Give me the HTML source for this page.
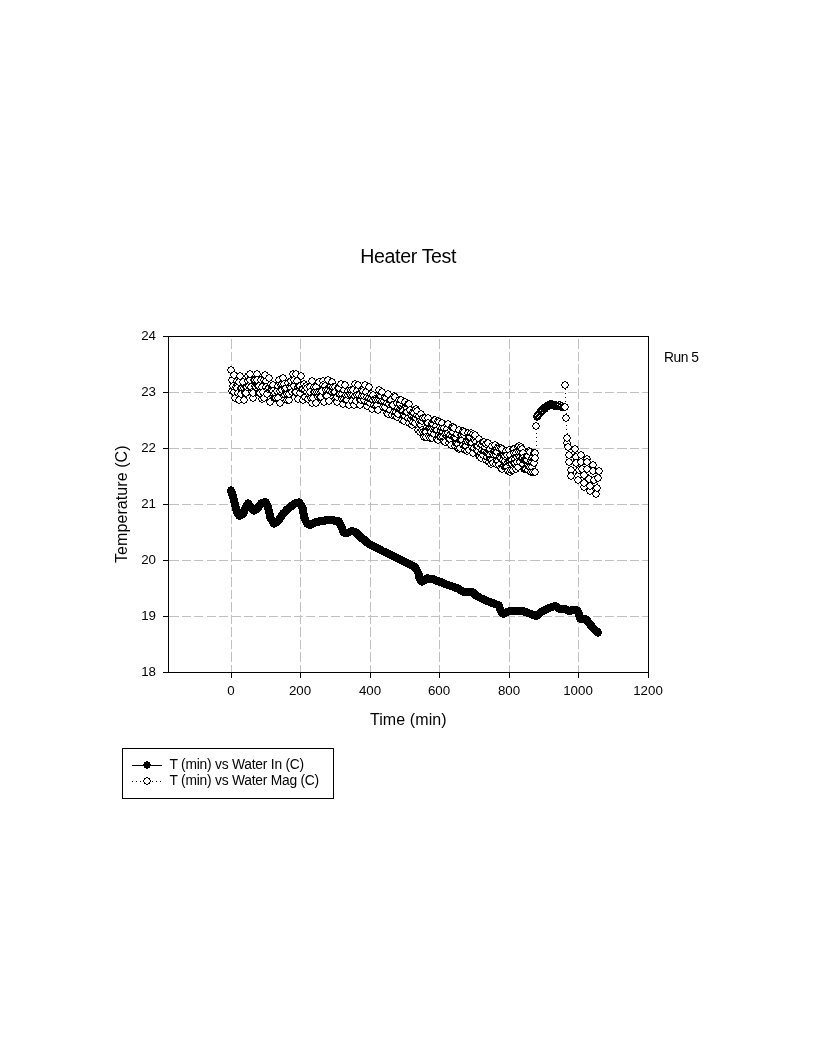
<!DOCTYPE html>
<html><head><meta charset="utf-8"><title>Heater Test</title>
<style>html,body{margin:0;padding:0;background:#fff;}body{width:816px;height:1056px;position:relative;overflow:hidden;font-family:"Liberation Sans",sans-serif;}</style>
</head><body>
<svg width="816" height="1056" viewBox="0 0 816 1056" style="position:absolute;left:0;top:0">
<rect width="816" height="1056" fill="#fff"/>
<defs><g id="mo" shape-rendering="crispEdges"><path d="M3 1h2v1h-2zM2 2h4v1h-4zM1 3h6v2h-6zM2 5h4v1h-4zM3 6h2v1h-2z" fill="#fff"/><path d="M3 0h2v1h-2zM1 1h2v1h-2zM5 1h2v1h-2zM1 2h1v1h-1zM6 2h1v1h-1zM0 3h1v2h-1zM7 3h1v2h-1zM1 5h1v1h-1zM6 5h1v1h-1zM1 6h2v1h-2zM5 6h2v1h-2zM3 7h2v1h-2z" fill="#000"/></g><path id="mf" d="M3 0h2v1h-2zM1 1h6v2h-6zM0 3h8v2h-8zM1 5h6v2h-6zM3 7h2v1h-2z" fill="#000" shape-rendering="crispEdges"/></defs>
<g stroke="#c0c0c0" stroke-width="1" shape-rendering="crispEdges" fill="none">
<line x1="231.5" y1="339.4" x2="231.5" y2="672" stroke-dasharray="9.3 3.22"/>
<line x1="300.5" y1="339.4" x2="300.5" y2="672" stroke-dasharray="9.3 3.22"/>
<line x1="370.5" y1="339.4" x2="370.5" y2="672" stroke-dasharray="9.3 3.22"/>
<line x1="439.5" y1="339.4" x2="439.5" y2="672" stroke-dasharray="9.3 3.22"/>
<line x1="509.5" y1="339.4" x2="509.5" y2="672" stroke-dasharray="9.3 3.22"/>
<line x1="578.5" y1="339.4" x2="578.5" y2="672" stroke-dasharray="9.3 3.22"/>
<line x1="169.2" y1="392.5" x2="648" y2="392.5" stroke-dasharray="9.3 3.15"/>
<line x1="169.2" y1="448.5" x2="648" y2="448.5" stroke-dasharray="9.3 3.15"/>
<line x1="169.2" y1="504.5" x2="648" y2="504.5" stroke-dasharray="9.3 3.15"/>
<line x1="169.2" y1="560.5" x2="648" y2="560.5" stroke-dasharray="9.3 3.15"/>
<line x1="169.2" y1="616.5" x2="648" y2="616.5" stroke-dasharray="9.3 3.15"/>
</g>
<g stroke="#000" stroke-width="1" shape-rendering="crispEdges" fill="none">
<rect x="168.5" y="336.5" width="480" height="336"/>
<line x1="163" y1="336.5" x2="168" y2="336.5"/>
<line x1="163" y1="392.5" x2="168" y2="392.5"/>
<line x1="163" y1="448.5" x2="168" y2="448.5"/>
<line x1="163" y1="504.5" x2="168" y2="504.5"/>
<line x1="163" y1="560.5" x2="168" y2="560.5"/>
<line x1="163" y1="616.5" x2="168" y2="616.5"/>
<line x1="163" y1="672.5" x2="168" y2="672.5"/>
<line x1="231.5" y1="672" x2="231.5" y2="678"/>
<line x1="300.5" y1="672" x2="300.5" y2="678"/>
<line x1="370.5" y1="672" x2="370.5" y2="678"/>
<line x1="439.5" y1="672" x2="439.5" y2="678"/>
<line x1="509.5" y1="672" x2="509.5" y2="678"/>
<line x1="578.5" y1="672" x2="578.5" y2="678"/>
<line x1="648.5" y1="672" x2="648.5" y2="678"/>
</g>
<g shape-rendering="crispEdges">
<use href="#mf" x="227" y="486"/>
<use href="#mf" x="227" y="487"/>
<use href="#mf" x="227" y="488"/>
<use href="#mf" x="228" y="488"/>
<use href="#mf" x="228" y="489"/>
<use href="#mf" x="228" y="490"/>
<use href="#mf" x="228" y="491"/>
<use href="#mf" x="229" y="491"/>
<use href="#mf" x="229" y="492"/>
<use href="#mf" x="229" y="493"/>
<use href="#mf" x="229" y="494"/>
<use href="#mf" x="230" y="495"/>
<use href="#mf" x="230" y="496"/>
<use href="#mf" x="230" y="497"/>
<use href="#mf" x="230" y="498"/>
<use href="#mf" x="231" y="499"/>
<use href="#mf" x="231" y="500"/>
<use href="#mf" x="231" y="501"/>
<use href="#mf" x="231" y="502"/>
<use href="#mf" x="232" y="503"/>
<use href="#mf" x="232" y="504"/>
<use href="#mf" x="232" y="505"/>
<use href="#mf" x="232" y="506"/>
<use href="#mf" x="233" y="507"/>
<use href="#mf" x="233" y="508"/>
<use href="#mf" x="233" y="509"/>
<use href="#mf" x="234" y="509"/>
<use href="#mf" x="234" y="510"/>
<use href="#mf" x="235" y="510"/>
<use href="#mf" x="235" y="511"/>
<use href="#mf" x="235" y="512"/>
<use href="#mf" x="236" y="512"/>
<use href="#mf" x="237" y="511"/>
<use href="#mf" x="238" y="511"/>
<use href="#mf" x="239" y="510"/>
<use href="#mf" x="239" y="509"/>
<use href="#mf" x="240" y="509"/>
<use href="#mf" x="240" y="508"/>
<use href="#mf" x="240" y="507"/>
<use href="#mf" x="240" y="506"/>
<use href="#mf" x="241" y="506"/>
<use href="#mf" x="241" y="505"/>
<use href="#mf" x="241" y="504"/>
<use href="#mf" x="242" y="503"/>
<use href="#mf" x="242" y="502"/>
<use href="#mf" x="243" y="502"/>
<use href="#mf" x="243" y="501"/>
<use href="#mf" x="244" y="500"/>
<use href="#mf" x="244" y="499"/>
<use href="#mf" x="245" y="500"/>
<use href="#mf" x="245" y="501"/>
<use href="#mf" x="246" y="502"/>
<use href="#mf" x="247" y="503"/>
<use href="#mf" x="247" y="504"/>
<use href="#mf" x="248" y="505"/>
<use href="#mf" x="249" y="505"/>
<use href="#mf" x="249" y="506"/>
<use href="#mf" x="250" y="506"/>
<use href="#mf" x="250" y="507"/>
<use href="#mf" x="251" y="506"/>
<use href="#mf" x="252" y="506"/>
<use href="#mf" x="252" y="505"/>
<use href="#mf" x="253" y="505"/>
<use href="#mf" x="253" y="504"/>
<use href="#mf" x="254" y="504"/>
<use href="#mf" x="254" y="503"/>
<use href="#mf" x="255" y="503"/>
<use href="#mf" x="255" y="502"/>
<use href="#mf" x="256" y="501"/>
<use href="#mf" x="257" y="500"/>
<use href="#mf" x="257" y="499"/>
<use href="#mf" x="258" y="499"/>
<use href="#mf" x="259" y="499"/>
<use href="#mf" x="260" y="498"/>
<use href="#mf" x="261" y="498"/>
<use href="#mf" x="262" y="498"/>
<use href="#mf" x="262" y="499"/>
<use href="#mf" x="262" y="500"/>
<use href="#mf" x="263" y="500"/>
<use href="#mf" x="263" y="501"/>
<use href="#mf" x="263" y="502"/>
<use href="#mf" x="264" y="502"/>
<use href="#mf" x="264" y="503"/>
<use href="#mf" x="264" y="504"/>
<use href="#mf" x="264" y="505"/>
<use href="#mf" x="265" y="506"/>
<use href="#mf" x="265" y="507"/>
<use href="#mf" x="265" y="508"/>
<use href="#mf" x="265" y="509"/>
<use href="#mf" x="266" y="510"/>
<use href="#mf" x="266" y="511"/>
<use href="#mf" x="266" y="512"/>
<use href="#mf" x="266" y="513"/>
<use href="#mf" x="266" y="514"/>
<use href="#mf" x="267" y="514"/>
<use href="#mf" x="267" y="515"/>
<use href="#mf" x="268" y="516"/>
<use href="#mf" x="268" y="517"/>
<use href="#mf" x="269" y="518"/>
<use href="#mf" x="269" y="519"/>
<use href="#mf" x="270" y="519"/>
<use href="#mf" x="270" y="520"/>
<use href="#mf" x="271" y="519"/>
<use href="#mf" x="272" y="519"/>
<use href="#mf" x="272" y="518"/>
<use href="#mf" x="273" y="518"/>
<use href="#mf" x="274" y="517"/>
<use href="#mf" x="275" y="516"/>
<use href="#mf" x="275" y="515"/>
<use href="#mf" x="276" y="515"/>
<use href="#mf" x="276" y="514"/>
<use href="#mf" x="277" y="513"/>
<use href="#mf" x="277" y="512"/>
<use href="#mf" x="278" y="512"/>
<use href="#mf" x="278" y="511"/>
<use href="#mf" x="279" y="510"/>
<use href="#mf" x="279" y="509"/>
<use href="#mf" x="280" y="509"/>
<use href="#mf" x="281" y="508"/>
<use href="#mf" x="282" y="507"/>
<use href="#mf" x="282" y="506"/>
<use href="#mf" x="283" y="506"/>
<use href="#mf" x="283" y="505"/>
<use href="#mf" x="284" y="505"/>
<use href="#mf" x="285" y="504"/>
<use href="#mf" x="286" y="503"/>
<use href="#mf" x="287" y="503"/>
<use href="#mf" x="287" y="502"/>
<use href="#mf" x="288" y="502"/>
<use href="#mf" x="288" y="501"/>
<use href="#mf" x="289" y="501"/>
<use href="#mf" x="290" y="500"/>
<use href="#mf" x="291" y="500"/>
<use href="#mf" x="291" y="499"/>
<use href="#mf" x="292" y="499"/>
<use href="#mf" x="293" y="499"/>
<use href="#mf" x="294" y="499"/>
<use href="#mf" x="295" y="499"/>
<use href="#mf" x="295" y="498"/>
<use href="#mf" x="296" y="499"/>
<use href="#mf" x="296" y="500"/>
<use href="#mf" x="297" y="501"/>
<use href="#mf" x="297" y="502"/>
<use href="#mf" x="298" y="502"/>
<use href="#mf" x="298" y="503"/>
<use href="#mf" x="298" y="504"/>
<use href="#mf" x="299" y="504"/>
<use href="#mf" x="299" y="505"/>
<use href="#mf" x="299" y="506"/>
<use href="#mf" x="299" y="507"/>
<use href="#mf" x="299" y="508"/>
<use href="#mf" x="299" y="509"/>
<use href="#mf" x="300" y="510"/>
<use href="#mf" x="300" y="511"/>
<use href="#mf" x="300" y="512"/>
<use href="#mf" x="300" y="513"/>
<use href="#mf" x="300" y="514"/>
<use href="#mf" x="301" y="514"/>
<use href="#mf" x="301" y="515"/>
<use href="#mf" x="301" y="516"/>
<use href="#mf" x="302" y="517"/>
<use href="#mf" x="302" y="518"/>
<use href="#mf" x="303" y="519"/>
<use href="#mf" x="303" y="520"/>
<use href="#mf" x="304" y="520"/>
<use href="#mf" x="305" y="520"/>
<use href="#mf" x="305" y="521"/>
<use href="#mf" x="306" y="521"/>
<use href="#mf" x="307" y="521"/>
<use href="#mf" x="307" y="520"/>
<use href="#mf" x="308" y="520"/>
<use href="#mf" x="309" y="520"/>
<use href="#mf" x="309" y="519"/>
<use href="#mf" x="310" y="519"/>
<use href="#mf" x="311" y="519"/>
<use href="#mf" x="311" y="518"/>
<use href="#mf" x="312" y="518"/>
<use href="#mf" x="313" y="518"/>
<use href="#mf" x="314" y="518"/>
<use href="#mf" x="315" y="518"/>
<use href="#mf" x="315" y="517"/>
<use href="#mf" x="316" y="517"/>
<use href="#mf" x="317" y="517"/>
<use href="#mf" x="318" y="517"/>
<use href="#mf" x="319" y="517"/>
<use href="#mf" x="320" y="517"/>
<use href="#mf" x="321" y="517"/>
<use href="#mf" x="321" y="516"/>
<use href="#mf" x="322" y="516"/>
<use href="#mf" x="323" y="516"/>
<use href="#mf" x="324" y="516"/>
<use href="#mf" x="325" y="516"/>
<use href="#mf" x="326" y="516"/>
<use href="#mf" x="327" y="516"/>
<use href="#mf" x="328" y="516"/>
<use href="#mf" x="329" y="516"/>
<use href="#mf" x="330" y="516"/>
<use href="#mf" x="330" y="517"/>
<use href="#mf" x="331" y="517"/>
<use href="#mf" x="332" y="517"/>
<use href="#mf" x="333" y="517"/>
<use href="#mf" x="334" y="517"/>
<use href="#mf" x="335" y="517"/>
<use href="#mf" x="335" y="518"/>
<use href="#mf" x="335" y="519"/>
<use href="#mf" x="336" y="519"/>
<use href="#mf" x="336" y="520"/>
<use href="#mf" x="336" y="521"/>
<use href="#mf" x="337" y="521"/>
<use href="#mf" x="337" y="522"/>
<use href="#mf" x="338" y="523"/>
<use href="#mf" x="338" y="524"/>
<use href="#mf" x="338" y="525"/>
<use href="#mf" x="339" y="526"/>
<use href="#mf" x="339" y="527"/>
<use href="#mf" x="339" y="528"/>
<use href="#mf" x="340" y="528"/>
<use href="#mf" x="340" y="529"/>
<use href="#mf" x="341" y="529"/>
<use href="#mf" x="342" y="529"/>
<use href="#mf" x="343" y="529"/>
<use href="#mf" x="344" y="529"/>
<use href="#mf" x="345" y="528"/>
<use href="#mf" x="346" y="528"/>
<use href="#mf" x="347" y="527"/>
<use href="#mf" x="348" y="527"/>
<use href="#mf" x="349" y="527"/>
<use href="#mf" x="350" y="528"/>
<use href="#mf" x="351" y="528"/>
<use href="#mf" x="352" y="528"/>
<use href="#mf" x="352" y="529"/>
<use href="#mf" x="353" y="529"/>
<use href="#mf" x="353" y="530"/>
<use href="#mf" x="354" y="530"/>
<use href="#mf" x="354" y="531"/>
<use href="#mf" x="355" y="531"/>
<use href="#mf" x="355" y="532"/>
<use href="#mf" x="356" y="532"/>
<use href="#mf" x="356" y="533"/>
<use href="#mf" x="357" y="533"/>
<use href="#mf" x="357" y="534"/>
<use href="#mf" x="358" y="534"/>
<use href="#mf" x="358" y="535"/>
<use href="#mf" x="359" y="535"/>
<use href="#mf" x="360" y="535"/>
<use href="#mf" x="360" y="536"/>
<use href="#mf" x="361" y="536"/>
<use href="#mf" x="361" y="537"/>
<use href="#mf" x="362" y="537"/>
<use href="#mf" x="362" y="538"/>
<use href="#mf" x="363" y="538"/>
<use href="#mf" x="363" y="539"/>
<use href="#mf" x="364" y="539"/>
<use href="#mf" x="365" y="540"/>
<use href="#mf" x="366" y="540"/>
<use href="#mf" x="366" y="541"/>
<use href="#mf" x="367" y="541"/>
<use href="#mf" x="368" y="541"/>
<use href="#mf" x="368" y="542"/>
<use href="#mf" x="369" y="542"/>
<use href="#mf" x="370" y="542"/>
<use href="#mf" x="370" y="543"/>
<use href="#mf" x="371" y="543"/>
<use href="#mf" x="372" y="544"/>
<use href="#mf" x="373" y="544"/>
<use href="#mf" x="374" y="544"/>
<use href="#mf" x="374" y="545"/>
<use href="#mf" x="375" y="545"/>
<use href="#mf" x="376" y="545"/>
<use href="#mf" x="376" y="546"/>
<use href="#mf" x="377" y="546"/>
<use href="#mf" x="378" y="547"/>
<use href="#mf" x="379" y="547"/>
<use href="#mf" x="380" y="548"/>
<use href="#mf" x="381" y="548"/>
<use href="#mf" x="382" y="548"/>
<use href="#mf" x="382" y="549"/>
<use href="#mf" x="383" y="549"/>
<use href="#mf" x="384" y="549"/>
<use href="#mf" x="384" y="550"/>
<use href="#mf" x="385" y="550"/>
<use href="#mf" x="386" y="551"/>
<use href="#mf" x="387" y="551"/>
<use href="#mf" x="388" y="551"/>
<use href="#mf" x="388" y="552"/>
<use href="#mf" x="389" y="552"/>
<use href="#mf" x="390" y="552"/>
<use href="#mf" x="390" y="553"/>
<use href="#mf" x="391" y="553"/>
<use href="#mf" x="392" y="554"/>
<use href="#mf" x="393" y="554"/>
<use href="#mf" x="394" y="554"/>
<use href="#mf" x="394" y="555"/>
<use href="#mf" x="395" y="555"/>
<use href="#mf" x="396" y="555"/>
<use href="#mf" x="396" y="556"/>
<use href="#mf" x="397" y="556"/>
<use href="#mf" x="398" y="556"/>
<use href="#mf" x="398" y="557"/>
<use href="#mf" x="399" y="557"/>
<use href="#mf" x="400" y="558"/>
<use href="#mf" x="401" y="558"/>
<use href="#mf" x="402" y="558"/>
<use href="#mf" x="402" y="559"/>
<use href="#mf" x="403" y="559"/>
<use href="#mf" x="404" y="559"/>
<use href="#mf" x="404" y="560"/>
<use href="#mf" x="405" y="560"/>
<use href="#mf" x="406" y="561"/>
<use href="#mf" x="407" y="561"/>
<use href="#mf" x="408" y="561"/>
<use href="#mf" x="408" y="562"/>
<use href="#mf" x="409" y="562"/>
<use href="#mf" x="410" y="562"/>
<use href="#mf" x="410" y="563"/>
<use href="#mf" x="411" y="563"/>
<use href="#mf" x="411" y="564"/>
<use href="#mf" x="412" y="564"/>
<use href="#mf" x="412" y="565"/>
<use href="#mf" x="413" y="566"/>
<use href="#mf" x="413" y="567"/>
<use href="#mf" x="414" y="568"/>
<use href="#mf" x="414" y="569"/>
<use href="#mf" x="415" y="570"/>
<use href="#mf" x="415" y="571"/>
<use href="#mf" x="415" y="572"/>
<use href="#mf" x="415" y="573"/>
<use href="#mf" x="415" y="574"/>
<use href="#mf" x="416" y="574"/>
<use href="#mf" x="416" y="575"/>
<use href="#mf" x="416" y="576"/>
<use href="#mf" x="417" y="576"/>
<use href="#mf" x="417" y="577"/>
<use href="#mf" x="418" y="577"/>
<use href="#mf" x="418" y="578"/>
<use href="#mf" x="419" y="577"/>
<use href="#mf" x="420" y="577"/>
<use href="#mf" x="420" y="576"/>
<use href="#mf" x="421" y="576"/>
<use href="#mf" x="421" y="575"/>
<use href="#mf" x="422" y="575"/>
<use href="#mf" x="423" y="574"/>
<use href="#mf" x="424" y="574"/>
<use href="#mf" x="424" y="575"/>
<use href="#mf" x="425" y="575"/>
<use href="#mf" x="426" y="575"/>
<use href="#mf" x="427" y="575"/>
<use href="#mf" x="428" y="575"/>
<use href="#mf" x="429" y="575"/>
<use href="#mf" x="430" y="575"/>
<use href="#mf" x="430" y="576"/>
<use href="#mf" x="431" y="576"/>
<use href="#mf" x="432" y="576"/>
<use href="#mf" x="432" y="577"/>
<use href="#mf" x="433" y="577"/>
<use href="#mf" x="434" y="577"/>
<use href="#mf" x="435" y="577"/>
<use href="#mf" x="435" y="578"/>
<use href="#mf" x="436" y="578"/>
<use href="#mf" x="437" y="578"/>
<use href="#mf" x="438" y="578"/>
<use href="#mf" x="438" y="579"/>
<use href="#mf" x="439" y="579"/>
<use href="#mf" x="440" y="579"/>
<use href="#mf" x="440" y="580"/>
<use href="#mf" x="441" y="580"/>
<use href="#mf" x="442" y="580"/>
<use href="#mf" x="443" y="581"/>
<use href="#mf" x="444" y="581"/>
<use href="#mf" x="445" y="581"/>
<use href="#mf" x="446" y="582"/>
<use href="#mf" x="447" y="582"/>
<use href="#mf" x="448" y="582"/>
<use href="#mf" x="449" y="583"/>
<use href="#mf" x="450" y="583"/>
<use href="#mf" x="451" y="583"/>
<use href="#mf" x="451" y="584"/>
<use href="#mf" x="452" y="584"/>
<use href="#mf" x="453" y="584"/>
<use href="#mf" x="454" y="584"/>
<use href="#mf" x="454" y="585"/>
<use href="#mf" x="455" y="585"/>
<use href="#mf" x="456" y="586"/>
<use href="#mf" x="457" y="586"/>
<use href="#mf" x="457" y="587"/>
<use href="#mf" x="458" y="587"/>
<use href="#mf" x="459" y="588"/>
<use href="#mf" x="460" y="588"/>
<use href="#mf" x="461" y="588"/>
<use href="#mf" x="462" y="588"/>
<use href="#mf" x="463" y="588"/>
<use href="#mf" x="464" y="588"/>
<use href="#mf" x="465" y="588"/>
<use href="#mf" x="466" y="588"/>
<use href="#mf" x="467" y="588"/>
<use href="#mf" x="468" y="588"/>
<use href="#mf" x="469" y="588"/>
<use href="#mf" x="469" y="589"/>
<use href="#mf" x="470" y="589"/>
<use href="#mf" x="470" y="590"/>
<use href="#mf" x="471" y="590"/>
<use href="#mf" x="471" y="591"/>
<use href="#mf" x="472" y="591"/>
<use href="#mf" x="472" y="592"/>
<use href="#mf" x="473" y="592"/>
<use href="#mf" x="474" y="592"/>
<use href="#mf" x="474" y="593"/>
<use href="#mf" x="475" y="593"/>
<use href="#mf" x="476" y="594"/>
<use href="#mf" x="477" y="594"/>
<use href="#mf" x="478" y="595"/>
<use href="#mf" x="479" y="595"/>
<use href="#mf" x="480" y="595"/>
<use href="#mf" x="480" y="596"/>
<use href="#mf" x="481" y="596"/>
<use href="#mf" x="482" y="596"/>
<use href="#mf" x="482" y="597"/>
<use href="#mf" x="483" y="597"/>
<use href="#mf" x="484" y="597"/>
<use href="#mf" x="485" y="598"/>
<use href="#mf" x="486" y="598"/>
<use href="#mf" x="487" y="598"/>
<use href="#mf" x="487" y="599"/>
<use href="#mf" x="488" y="599"/>
<use href="#mf" x="489" y="599"/>
<use href="#mf" x="490" y="599"/>
<use href="#mf" x="490" y="600"/>
<use href="#mf" x="491" y="600"/>
<use href="#mf" x="492" y="600"/>
<use href="#mf" x="493" y="601"/>
<use href="#mf" x="494" y="601"/>
<use href="#mf" x="495" y="601"/>
<use href="#mf" x="495" y="602"/>
<use href="#mf" x="495" y="603"/>
<use href="#mf" x="496" y="604"/>
<use href="#mf" x="496" y="605"/>
<use href="#mf" x="496" y="606"/>
<use href="#mf" x="497" y="607"/>
<use href="#mf" x="497" y="608"/>
<use href="#mf" x="498" y="609"/>
<use href="#mf" x="499" y="609"/>
<use href="#mf" x="499" y="610"/>
<use href="#mf" x="500" y="610"/>
<use href="#mf" x="501" y="609"/>
<use href="#mf" x="502" y="609"/>
<use href="#mf" x="502" y="608"/>
<use href="#mf" x="503" y="608"/>
<use href="#mf" x="504" y="608"/>
<use href="#mf" x="505" y="607"/>
<use href="#mf" x="506" y="607"/>
<use href="#mf" x="507" y="607"/>
<use href="#mf" x="508" y="607"/>
<use href="#mf" x="509" y="607"/>
<use href="#mf" x="510" y="607"/>
<use href="#mf" x="511" y="607"/>
<use href="#mf" x="512" y="607"/>
<use href="#mf" x="513" y="607"/>
<use href="#mf" x="514" y="607"/>
<use href="#mf" x="515" y="607"/>
<use href="#mf" x="516" y="607"/>
<use href="#mf" x="517" y="607"/>
<use href="#mf" x="518" y="607"/>
<use href="#mf" x="519" y="607"/>
<use href="#mf" x="520" y="607"/>
<use href="#mf" x="520" y="608"/>
<use href="#mf" x="521" y="608"/>
<use href="#mf" x="522" y="608"/>
<use href="#mf" x="523" y="608"/>
<use href="#mf" x="523" y="609"/>
<use href="#mf" x="524" y="609"/>
<use href="#mf" x="525" y="609"/>
<use href="#mf" x="526" y="610"/>
<use href="#mf" x="527" y="610"/>
<use href="#mf" x="528" y="610"/>
<use href="#mf" x="528" y="611"/>
<use href="#mf" x="529" y="611"/>
<use href="#mf" x="530" y="611"/>
<use href="#mf" x="531" y="612"/>
<use href="#mf" x="532" y="612"/>
<use href="#mf" x="533" y="612"/>
<use href="#mf" x="533" y="611"/>
<use href="#mf" x="534" y="611"/>
<use href="#mf" x="534" y="610"/>
<use href="#mf" x="535" y="610"/>
<use href="#mf" x="536" y="609"/>
<use href="#mf" x="537" y="608"/>
<use href="#mf" x="538" y="608"/>
<use href="#mf" x="538" y="607"/>
<use href="#mf" x="539" y="607"/>
<use href="#mf" x="540" y="607"/>
<use href="#mf" x="540" y="606"/>
<use href="#mf" x="541" y="606"/>
<use href="#mf" x="542" y="606"/>
<use href="#mf" x="542" y="605"/>
<use href="#mf" x="543" y="605"/>
<use href="#mf" x="544" y="605"/>
<use href="#mf" x="544" y="604"/>
<use href="#mf" x="545" y="604"/>
<use href="#mf" x="546" y="604"/>
<use href="#mf" x="547" y="603"/>
<use href="#mf" x="548" y="603"/>
<use href="#mf" x="549" y="603"/>
<use href="#mf" x="550" y="602"/>
<use href="#mf" x="551" y="602"/>
<use href="#mf" x="552" y="602"/>
<use href="#mf" x="553" y="603"/>
<use href="#mf" x="554" y="604"/>
<use href="#mf" x="555" y="604"/>
<use href="#mf" x="555" y="605"/>
<use href="#mf" x="556" y="605"/>
<use href="#mf" x="557" y="605"/>
<use href="#mf" x="558" y="605"/>
<use href="#mf" x="559" y="605"/>
<use href="#mf" x="560" y="605"/>
<use href="#mf" x="561" y="605"/>
<use href="#mf" x="562" y="605"/>
<use href="#mf" x="563" y="606"/>
<use href="#mf" x="564" y="606"/>
<use href="#mf" x="564" y="607"/>
<use href="#mf" x="565" y="607"/>
<use href="#mf" x="566" y="607"/>
<use href="#mf" x="567" y="607"/>
<use href="#mf" x="567" y="606"/>
<use href="#mf" x="568" y="606"/>
<use href="#mf" x="569" y="606"/>
<use href="#mf" x="570" y="606"/>
<use href="#mf" x="571" y="606"/>
<use href="#mf" x="572" y="606"/>
<use href="#mf" x="573" y="606"/>
<use href="#mf" x="573" y="607"/>
<use href="#mf" x="574" y="607"/>
<use href="#mf" x="574" y="608"/>
<use href="#mf" x="575" y="609"/>
<use href="#mf" x="575" y="610"/>
<use href="#mf" x="575" y="611"/>
<use href="#mf" x="575" y="612"/>
<use href="#mf" x="576" y="612"/>
<use href="#mf" x="576" y="613"/>
<use href="#mf" x="576" y="614"/>
<use href="#mf" x="576" y="615"/>
<use href="#mf" x="577" y="615"/>
<use href="#mf" x="578" y="615"/>
<use href="#mf" x="579" y="615"/>
<use href="#mf" x="580" y="615"/>
<use href="#mf" x="581" y="615"/>
<use href="#mf" x="582" y="615"/>
<use href="#mf" x="583" y="616"/>
<use href="#mf" x="583" y="617"/>
<use href="#mf" x="584" y="617"/>
<use href="#mf" x="584" y="618"/>
<use href="#mf" x="585" y="619"/>
<use href="#mf" x="586" y="620"/>
<use href="#mf" x="586" y="621"/>
<use href="#mf" x="587" y="621"/>
<use href="#mf" x="587" y="622"/>
<use href="#mf" x="588" y="622"/>
<use href="#mf" x="588" y="623"/>
<use href="#mf" x="589" y="624"/>
<use href="#mf" x="590" y="625"/>
<use href="#mf" x="591" y="626"/>
<use href="#mf" x="592" y="627"/>
<use href="#mf" x="593" y="627"/>
<use href="#mf" x="593" y="628"/>
<use href="#mf" x="594" y="628"/>
<use href="#mf" x="594" y="629"/>
</g>
<polyline fill="none" stroke="#000" stroke-width="1" stroke-dasharray="1 3" shape-rendering="crispEdges" points="231.5,370.5 232.5,380.5 232.5,391.5 233.5,386.5 234.5,392.5 234.5,375.5 235.5,398.5 236.5,387.5 237.5,381.5 237.5,388.5 238.5,393.5 239.5,400.5 239.5,382.5 240.5,376.5 241.5,388.5 241.5,394.5 242.5,388.5 243.5,382.5 244.5,388.5 244.5,400.5 245.5,393.5 246.5,387.5 246.5,393.5 247.5,387.5 248.5,376.5 248.5,381.5 249.5,386.5 250.5,380.5 250.5,374.5 251.5,387.5 252.5,392.5 253.5,398.5 253.5,393.5 254.5,380.5 255.5,386.5 255.5,380.5 256.5,387.5 257.5,374.5 257.5,380.5 258.5,386.5 259.5,393.5 259.5,386.5 260.5,393.5 261.5,380.5 262.5,387.5 262.5,399.5 263.5,392.5 264.5,398.5 264.5,380.5 265.5,375.5 266.5,381.5 266.5,387.5 267.5,394.5 268.5,389.5 269.5,388.5 269.5,378.5 270.5,402.5 271.5,390.5 271.5,384.5 272.5,390.5 273.5,385.5 273.5,391.5 274.5,398.5 275.5,398.5 275.5,393.5 276.5,398.5 277.5,391.5 278.5,398.5 278.5,386.5 279.5,380.5 280.5,403.5 280.5,391.5 281.5,385.5 282.5,390.5 282.5,384.5 283.5,378.5 284.5,384.5 285.5,389.5 285.5,395.5 286.5,388.5 287.5,394.5 287.5,400.5 288.5,383.5 289.5,400.5 289.5,394.5 290.5,387.5 291.5,381.5 291.5,388.5 292.5,392.5 293.5,374.5 294.5,386.5 294.5,380.5 295.5,392.5 296.5,374.5 296.5,392.5 297.5,381.5 298.5,399.5 298.5,387.5 299.5,386.5 300.5,386.5 300.5,393.5 301.5,376.5 302.5,389.5 303.5,400.5 303.5,389.5 304.5,384.5 305.5,397.5 305.5,390.5 306.5,386.5 307.5,392.5 307.5,388.5 308.5,399.5 309.5,394.5 310.5,387.5 310.5,392.5 311.5,398.5 312.5,403.5 312.5,381.5 313.5,398.5 314.5,392.5 314.5,387.5 315.5,392.5 316.5,403.5 316.5,387.5 317.5,392.5 318.5,397.5 319.5,382.5 319.5,392.5 320.5,397.5 321.5,392.5 321.5,397.5 322.5,391.5 323.5,381.5 323.5,385.5 324.5,402.5 325.5,386.5 326.5,396.5 326.5,390.5 327.5,396.5 328.5,380.5 328.5,390.5 329.5,401.5 330.5,391.5 330.5,386.5 331.5,386.5 332.5,392.5 332.5,382.5 333.5,387.5 334.5,392.5 335.5,387.5 335.5,392.5 336.5,398.5 337.5,402.5 337.5,397.5 338.5,388.5 339.5,394.5 339.5,388.5 340.5,394.5 341.5,384.5 342.5,394.5 342.5,399.5 343.5,404.5 344.5,399.5 344.5,390.5 345.5,385.5 346.5,400.5 346.5,395.5 347.5,400.5 348.5,391.5 348.5,395.5 349.5,405.5 350.5,394.5 351.5,390.5 351.5,395.5 352.5,401.5 353.5,395.5 353.5,390.5 354.5,405.5 355.5,384.5 355.5,396.5 356.5,401.5 357.5,391.5 357.5,395.5 358.5,385.5 359.5,395.5 360.5,400.5 360.5,405.5 361.5,400.5 362.5,390.5 362.5,396.5 363.5,391.5 364.5,400.5 364.5,396.5 365.5,385.5 366.5,392.5 367.5,406.5 367.5,397.5 368.5,402.5 369.5,398.5 369.5,387.5 370.5,403.5 371.5,394.5 371.5,399.5 372.5,409.5 373.5,400.5 373.5,395.5 374.5,405.5 375.5,399.5 376.5,406.5 376.5,400.5 377.5,405.5 378.5,400.5 378.5,410.5 379.5,390.5 380.5,395.5 380.5,400.5 381.5,396.5 382.5,401.5 382.5,392.5 383.5,407.5 384.5,401.5 385.5,397.5 385.5,407.5 386.5,398.5 387.5,413.5 387.5,403.5 388.5,414.5 388.5,394.5 389.5,404.5 390.5,400.5 390.5,410.5 391.5,400.5 392.5,405.5 392.5,415.5 393.5,405.5 394.5,396.5 394.5,412.5 395.5,397.5 395.5,416.5 396.5,412.5 397.5,417.5 397.5,403.5 398.5,408.5 398.5,414.5 399.5,400.5 400.5,404.5 400.5,409.5 401.5,410.5 401.5,400.5 402.5,411.5 402.5,420.5 403.5,411.5 404.5,415.5 404.5,421.5 405.5,416.5 405.5,402.5 406.5,407.5 406.5,412.5 407.5,408.5 407.5,412.5 408.5,404.5 408.5,418.5 409.5,423.5 409.5,404.5 410.5,410.5 411.5,419.5 411.5,415.5 412.5,425.5 412.5,416.5 413.5,412.5 413.5,422.5 414.5,417.5 414.5,413.5 415.5,418.5 415.5,423.5 416.5,418.5 416.5,409.5 417.5,415.5 417.5,411.5 418.5,430.5 418.5,430.5 419.5,416.5 419.5,422.5 420.5,432.5 420.5,424.5 421.5,414.5 421.5,425.5 422.5,421.5 422.5,430.5 423.5,418.5 423.5,432.5 424.5,437.5 425.5,432.5 425.5,418.5 426.5,432.5 426.5,437.5 427.5,427.5 427.5,423.5 428.5,418.5 428.5,423.5 429.5,436.5 429.5,428.5 430.5,428.5 430.5,438.5 431.5,429.5 431.5,432.5 432.5,423.5 432.5,438.5 433.5,424.5 433.5,429.5 434.5,420.5 434.5,434.5 435.5,429.5 435.5,420.5 436.5,430.5 436.5,426.5 437.5,430.5 437.5,439.5 438.5,421.5 438.5,440.5 439.5,422.5 439.5,435.5 440.5,427.5 440.5,437.5 441.5,431.5 441.5,437.5 442.5,428.5 442.5,423.5 443.5,432.5 443.5,437.5 444.5,428.5 444.5,441.5 445.5,434.5 445.5,442.5 446.5,433.5 447.5,425.5 447.5,429.5 448.5,433.5 448.5,424.5 449.5,439.5 449.5,443.5 450.5,439.5 450.5,435.5 451.5,430.5 451.5,445.5 452.5,427.5 452.5,436.5 453.5,427.5 453.5,432.5 454.5,437.5 454.5,428.5 455.5,446.5 455.5,437.5 456.5,443.5 456.5,438.5 457.5,443.5 457.5,434.5 458.5,448.5 458.5,444.5 459.5,449.5 459.5,430.5 460.5,448.5 460.5,440.5 461.5,435.5 461.5,440.5 462.5,435.5 462.5,440.5 463.5,431.5 463.5,445.5 464.5,435.5 464.5,432.5 465.5,450.5 465.5,446.5 466.5,442.5 466.5,446.5 467.5,441.5 467.5,451.5 468.5,442.5 468.5,433.5 469.5,437.5 469.5,450.5 470.5,442.5 470.5,437.5 471.5,433.5 471.5,443.5 472.5,447.5 472.5,443.5 473.5,453.5 473.5,434.5 474.5,439.5 474.5,448.5 475.5,440.5 475.5,435.5 476.5,445.5 476.5,442.5 477.5,450.5 477.5,446.5 478.5,451.5 478.5,446.5 479.5,456.5 479.5,439.5 480.5,456.5 480.5,444.5 481.5,458.5 481.5,453.5 481.5,458.5 482.5,450.5 482.5,445.5 483.5,442.5 483.5,455.5 484.5,442.5 484.5,451.5 485.5,451.5 485.5,447.5 486.5,460.5 486.5,444.5 487.5,457.5 487.5,452.5 488.5,443.5 488.5,453.5 489.5,462.5 489.5,454.5 490.5,458.5 490.5,449.5 490.5,455.5 491.5,459.5 491.5,464.5 492.5,446.5 492.5,460.5 493.5,454.5 493.5,463.5 494.5,455.5 494.5,451.5 495.5,445.5 495.5,451.5 496.5,464.5 496.5,452.5 496.5,455.5 497.5,452.5 497.5,460.5 498.5,447.5 498.5,461.5 499.5,448.5 499.5,465.5 500.5,456.5 500.5,457.5 501.5,448.5 501.5,458.5 501.5,468.5 502.5,449.5 502.5,469.5 503.5,460.5 503.5,455.5 504.5,466.5 504.5,455.5 505.5,467.5 505.5,461.5 505.5,456.5 506.5,467.5 506.5,451.5 507.5,467.5 507.5,455.5 508.5,462.5 508.5,471.5 509.5,461.5 509.5,450.5 510.5,472.5 510.5,461.5 510.5,455.5 511.5,460.5 511.5,470.5 512.5,460.5 512.5,464.5 513.5,449.5 513.5,470.5 514.5,449.5 514.5,453.5 514.5,463.5 515.5,459.5 515.5,463.5 516.5,469.5 516.5,453.5 517.5,462.5 517.5,457.5 518.5,467.5 518.5,447.5 519.5,456.5 519.5,446.5 519.5,452.5 520.5,457.5 520.5,462.5 521.5,447.5 521.5,452.5 522.5,449.5 522.5,458.5 523.5,453.5 523.5,458.5 523.5,464.5 524.5,469.5 524.5,460.5 525.5,469.5 525.5,460.5 526.5,469.5 526.5,460.5 527.5,456.5 527.5,460.5 528.5,465.5 528.5,456.5 528.5,470.5 529.5,451.5 529.5,466.5 530.5,452.5 530.5,467.5 531.5,461.5 531.5,472.5 532.5,462.5 532.5,467.5 532.5,458.5 533.5,472.5 533.5,457.5 534.5,463.5 534.5,453.5 535.5,453.5 535.5,458.5 535.5,472.5 536.5,426.5 537.5,417.5 537.5,416.5 537.5,416.5 538.5,416.5 538.5,415.5 539.5,414.5 539.5,414.5 539.5,414.5 540.5,413.5 540.5,412.5 540.5,413.5 541.5,412.5 541.5,412.5 541.5,411.5 542.5,411.5 542.5,411.5 542.5,410.5 543.5,409.5 543.5,410.5 543.5,410.5 544.5,409.5 544.5,409.5 544.5,408.5 545.5,409.5 545.5,408.5 545.5,407.5 546.5,407.5 546.5,407.5 547.5,407.5 547.5,406.5 547.5,406.5 548.5,406.5 548.5,405.5 548.5,405.5 549.5,406.5 549.5,405.5 549.5,405.5 550.5,405.5 550.5,405.5 550.5,404.5 551.5,404.5 551.5,404.5 551.5,404.5 552.5,404.5 552.5,404.5 552.5,405.5 553.5,405.5 553.5,405.5 553.5,405.5 554.5,406.5 554.5,405.5 555.5,406.5 555.5,405.5 555.5,406.5 556.5,406.5 556.5,405.5 556.5,406.5 557.5,406.5 557.5,406.5 557.5,406.5 558.5,406.5 558.5,406.5 558.5,406.5 559.5,405.5 559.5,406.5 559.5,406.5 560.5,405.5 560.5,406.5 560.5,405.5 561.5,406.5 561.5,406.5 561.5,407.5 562.5,407.5 562.5,406.5 563.5,407.5 563.5,407.5 563.5,407.5 564.5,407.5 564.5,407.5 564.5,407.5 565.5,407.5 565.5,407.5"/>
<polyline fill="none" stroke="#000" stroke-width="1" stroke-dasharray="1 3" shape-rendering="crispEdges" points="565.5,385.5 566.5,418.5 567.5,443.5 567.5,438.5 568.5,447.5 569.5,455.5 569.5,462.5 571.5,470.5 571.5,476.5 575.5,449.5 576.5,457.5 576.5,463.5 578.5,476.5 578.5,480.5 579.5,470.5 581.5,455.5 581.5,462.5 582.5,469.5 584.5,487.5 584.5,475.5 584.5,483.5 587.5,459.5 587.5,462.5 587.5,469.5 589.5,479.5 590.5,491.5 590.5,486.5 593.5,465.5 593.5,471.5 594.5,480.5 596.5,494.5 597.5,488.5 598.5,478.5 599.5,471.5"/>
<g shape-rendering="crispEdges">
<use href="#mo" x="227" y="366"/>
<use href="#mo" x="228" y="376"/>
<use href="#mo" x="228" y="387"/>
<use href="#mo" x="229" y="382"/>
<use href="#mo" x="230" y="388"/>
<use href="#mo" x="230" y="371"/>
<use href="#mo" x="231" y="394"/>
<use href="#mo" x="232" y="383"/>
<use href="#mo" x="233" y="377"/>
<use href="#mo" x="233" y="384"/>
<use href="#mo" x="234" y="389"/>
<use href="#mo" x="235" y="396"/>
<use href="#mo" x="235" y="378"/>
<use href="#mo" x="236" y="372"/>
<use href="#mo" x="237" y="384"/>
<use href="#mo" x="237" y="390"/>
<use href="#mo" x="238" y="384"/>
<use href="#mo" x="239" y="378"/>
<use href="#mo" x="240" y="384"/>
<use href="#mo" x="240" y="396"/>
<use href="#mo" x="241" y="389"/>
<use href="#mo" x="242" y="383"/>
<use href="#mo" x="242" y="389"/>
<use href="#mo" x="243" y="383"/>
<use href="#mo" x="244" y="372"/>
<use href="#mo" x="244" y="377"/>
<use href="#mo" x="245" y="382"/>
<use href="#mo" x="246" y="376"/>
<use href="#mo" x="246" y="370"/>
<use href="#mo" x="247" y="383"/>
<use href="#mo" x="248" y="388"/>
<use href="#mo" x="249" y="394"/>
<use href="#mo" x="249" y="389"/>
<use href="#mo" x="250" y="376"/>
<use href="#mo" x="251" y="382"/>
<use href="#mo" x="251" y="376"/>
<use href="#mo" x="252" y="383"/>
<use href="#mo" x="253" y="370"/>
<use href="#mo" x="253" y="376"/>
<use href="#mo" x="254" y="382"/>
<use href="#mo" x="255" y="389"/>
<use href="#mo" x="255" y="382"/>
<use href="#mo" x="256" y="389"/>
<use href="#mo" x="257" y="376"/>
<use href="#mo" x="258" y="383"/>
<use href="#mo" x="258" y="395"/>
<use href="#mo" x="259" y="388"/>
<use href="#mo" x="260" y="394"/>
<use href="#mo" x="260" y="376"/>
<use href="#mo" x="261" y="371"/>
<use href="#mo" x="262" y="377"/>
<use href="#mo" x="262" y="383"/>
<use href="#mo" x="263" y="390"/>
<use href="#mo" x="264" y="385"/>
<use href="#mo" x="265" y="384"/>
<use href="#mo" x="265" y="374"/>
<use href="#mo" x="266" y="398"/>
<use href="#mo" x="267" y="386"/>
<use href="#mo" x="267" y="380"/>
<use href="#mo" x="268" y="386"/>
<use href="#mo" x="269" y="381"/>
<use href="#mo" x="269" y="387"/>
<use href="#mo" x="270" y="394"/>
<use href="#mo" x="271" y="394"/>
<use href="#mo" x="271" y="389"/>
<use href="#mo" x="272" y="394"/>
<use href="#mo" x="273" y="387"/>
<use href="#mo" x="274" y="394"/>
<use href="#mo" x="274" y="382"/>
<use href="#mo" x="275" y="376"/>
<use href="#mo" x="276" y="399"/>
<use href="#mo" x="276" y="387"/>
<use href="#mo" x="277" y="381"/>
<use href="#mo" x="278" y="386"/>
<use href="#mo" x="278" y="380"/>
<use href="#mo" x="279" y="374"/>
<use href="#mo" x="280" y="380"/>
<use href="#mo" x="281" y="385"/>
<use href="#mo" x="281" y="391"/>
<use href="#mo" x="282" y="384"/>
<use href="#mo" x="283" y="390"/>
<use href="#mo" x="283" y="396"/>
<use href="#mo" x="284" y="379"/>
<use href="#mo" x="285" y="396"/>
<use href="#mo" x="285" y="390"/>
<use href="#mo" x="286" y="383"/>
<use href="#mo" x="287" y="377"/>
<use href="#mo" x="287" y="384"/>
<use href="#mo" x="288" y="388"/>
<use href="#mo" x="289" y="370"/>
<use href="#mo" x="290" y="382"/>
<use href="#mo" x="290" y="376"/>
<use href="#mo" x="291" y="388"/>
<use href="#mo" x="292" y="370"/>
<use href="#mo" x="292" y="388"/>
<use href="#mo" x="293" y="377"/>
<use href="#mo" x="294" y="395"/>
<use href="#mo" x="294" y="383"/>
<use href="#mo" x="295" y="382"/>
<use href="#mo" x="296" y="382"/>
<use href="#mo" x="296" y="389"/>
<use href="#mo" x="297" y="372"/>
<use href="#mo" x="298" y="385"/>
<use href="#mo" x="299" y="396"/>
<use href="#mo" x="299" y="385"/>
<use href="#mo" x="300" y="380"/>
<use href="#mo" x="301" y="393"/>
<use href="#mo" x="301" y="386"/>
<use href="#mo" x="302" y="382"/>
<use href="#mo" x="303" y="388"/>
<use href="#mo" x="303" y="384"/>
<use href="#mo" x="304" y="395"/>
<use href="#mo" x="305" y="390"/>
<use href="#mo" x="306" y="383"/>
<use href="#mo" x="306" y="388"/>
<use href="#mo" x="307" y="394"/>
<use href="#mo" x="308" y="399"/>
<use href="#mo" x="308" y="377"/>
<use href="#mo" x="309" y="394"/>
<use href="#mo" x="310" y="388"/>
<use href="#mo" x="310" y="383"/>
<use href="#mo" x="311" y="388"/>
<use href="#mo" x="312" y="399"/>
<use href="#mo" x="312" y="383"/>
<use href="#mo" x="313" y="388"/>
<use href="#mo" x="314" y="393"/>
<use href="#mo" x="315" y="378"/>
<use href="#mo" x="315" y="388"/>
<use href="#mo" x="316" y="393"/>
<use href="#mo" x="317" y="388"/>
<use href="#mo" x="317" y="393"/>
<use href="#mo" x="318" y="387"/>
<use href="#mo" x="319" y="377"/>
<use href="#mo" x="319" y="381"/>
<use href="#mo" x="320" y="398"/>
<use href="#mo" x="321" y="382"/>
<use href="#mo" x="322" y="392"/>
<use href="#mo" x="322" y="386"/>
<use href="#mo" x="323" y="392"/>
<use href="#mo" x="324" y="376"/>
<use href="#mo" x="324" y="386"/>
<use href="#mo" x="325" y="397"/>
<use href="#mo" x="326" y="387"/>
<use href="#mo" x="326" y="382"/>
<use href="#mo" x="327" y="382"/>
<use href="#mo" x="328" y="388"/>
<use href="#mo" x="328" y="378"/>
<use href="#mo" x="329" y="383"/>
<use href="#mo" x="330" y="388"/>
<use href="#mo" x="331" y="383"/>
<use href="#mo" x="331" y="388"/>
<use href="#mo" x="332" y="394"/>
<use href="#mo" x="333" y="398"/>
<use href="#mo" x="333" y="393"/>
<use href="#mo" x="334" y="384"/>
<use href="#mo" x="335" y="390"/>
<use href="#mo" x="335" y="384"/>
<use href="#mo" x="336" y="390"/>
<use href="#mo" x="337" y="380"/>
<use href="#mo" x="338" y="390"/>
<use href="#mo" x="338" y="395"/>
<use href="#mo" x="339" y="400"/>
<use href="#mo" x="340" y="395"/>
<use href="#mo" x="340" y="386"/>
<use href="#mo" x="341" y="381"/>
<use href="#mo" x="342" y="396"/>
<use href="#mo" x="342" y="391"/>
<use href="#mo" x="343" y="396"/>
<use href="#mo" x="344" y="387"/>
<use href="#mo" x="344" y="391"/>
<use href="#mo" x="345" y="401"/>
<use href="#mo" x="346" y="390"/>
<use href="#mo" x="347" y="386"/>
<use href="#mo" x="347" y="391"/>
<use href="#mo" x="348" y="397"/>
<use href="#mo" x="349" y="391"/>
<use href="#mo" x="349" y="386"/>
<use href="#mo" x="350" y="401"/>
<use href="#mo" x="351" y="380"/>
<use href="#mo" x="351" y="392"/>
<use href="#mo" x="352" y="397"/>
<use href="#mo" x="353" y="387"/>
<use href="#mo" x="353" y="391"/>
<use href="#mo" x="354" y="381"/>
<use href="#mo" x="355" y="391"/>
<use href="#mo" x="356" y="396"/>
<use href="#mo" x="356" y="401"/>
<use href="#mo" x="357" y="396"/>
<use href="#mo" x="358" y="386"/>
<use href="#mo" x="358" y="392"/>
<use href="#mo" x="359" y="387"/>
<use href="#mo" x="360" y="396"/>
<use href="#mo" x="360" y="392"/>
<use href="#mo" x="361" y="381"/>
<use href="#mo" x="362" y="388"/>
<use href="#mo" x="363" y="402"/>
<use href="#mo" x="363" y="393"/>
<use href="#mo" x="364" y="398"/>
<use href="#mo" x="365" y="394"/>
<use href="#mo" x="365" y="383"/>
<use href="#mo" x="366" y="399"/>
<use href="#mo" x="367" y="390"/>
<use href="#mo" x="367" y="395"/>
<use href="#mo" x="368" y="405"/>
<use href="#mo" x="369" y="396"/>
<use href="#mo" x="369" y="391"/>
<use href="#mo" x="370" y="401"/>
<use href="#mo" x="371" y="395"/>
<use href="#mo" x="372" y="402"/>
<use href="#mo" x="372" y="396"/>
<use href="#mo" x="373" y="401"/>
<use href="#mo" x="374" y="396"/>
<use href="#mo" x="374" y="406"/>
<use href="#mo" x="375" y="386"/>
<use href="#mo" x="376" y="391"/>
<use href="#mo" x="376" y="396"/>
<use href="#mo" x="377" y="392"/>
<use href="#mo" x="378" y="397"/>
<use href="#mo" x="378" y="388"/>
<use href="#mo" x="379" y="403"/>
<use href="#mo" x="380" y="397"/>
<use href="#mo" x="381" y="393"/>
<use href="#mo" x="381" y="403"/>
<use href="#mo" x="382" y="394"/>
<use href="#mo" x="383" y="409"/>
<use href="#mo" x="383" y="399"/>
<use href="#mo" x="384" y="410"/>
<use href="#mo" x="384" y="390"/>
<use href="#mo" x="385" y="400"/>
<use href="#mo" x="386" y="396"/>
<use href="#mo" x="386" y="406"/>
<use href="#mo" x="387" y="396"/>
<use href="#mo" x="388" y="401"/>
<use href="#mo" x="388" y="411"/>
<use href="#mo" x="389" y="401"/>
<use href="#mo" x="390" y="392"/>
<use href="#mo" x="390" y="408"/>
<use href="#mo" x="391" y="393"/>
<use href="#mo" x="391" y="412"/>
<use href="#mo" x="392" y="408"/>
<use href="#mo" x="393" y="413"/>
<use href="#mo" x="393" y="399"/>
<use href="#mo" x="394" y="404"/>
<use href="#mo" x="394" y="410"/>
<use href="#mo" x="395" y="396"/>
<use href="#mo" x="396" y="400"/>
<use href="#mo" x="396" y="405"/>
<use href="#mo" x="397" y="406"/>
<use href="#mo" x="397" y="396"/>
<use href="#mo" x="398" y="407"/>
<use href="#mo" x="398" y="416"/>
<use href="#mo" x="399" y="407"/>
<use href="#mo" x="400" y="411"/>
<use href="#mo" x="400" y="417"/>
<use href="#mo" x="401" y="412"/>
<use href="#mo" x="401" y="398"/>
<use href="#mo" x="402" y="403"/>
<use href="#mo" x="402" y="408"/>
<use href="#mo" x="403" y="404"/>
<use href="#mo" x="403" y="408"/>
<use href="#mo" x="404" y="400"/>
<use href="#mo" x="404" y="414"/>
<use href="#mo" x="405" y="419"/>
<use href="#mo" x="405" y="400"/>
<use href="#mo" x="406" y="406"/>
<use href="#mo" x="407" y="415"/>
<use href="#mo" x="407" y="411"/>
<use href="#mo" x="408" y="421"/>
<use href="#mo" x="408" y="412"/>
<use href="#mo" x="409" y="408"/>
<use href="#mo" x="409" y="418"/>
<use href="#mo" x="410" y="413"/>
<use href="#mo" x="410" y="409"/>
<use href="#mo" x="411" y="414"/>
<use href="#mo" x="411" y="419"/>
<use href="#mo" x="412" y="414"/>
<use href="#mo" x="412" y="405"/>
<use href="#mo" x="413" y="411"/>
<use href="#mo" x="413" y="407"/>
<use href="#mo" x="414" y="426"/>
<use href="#mo" x="414" y="426"/>
<use href="#mo" x="415" y="412"/>
<use href="#mo" x="415" y="418"/>
<use href="#mo" x="416" y="428"/>
<use href="#mo" x="416" y="420"/>
<use href="#mo" x="417" y="410"/>
<use href="#mo" x="417" y="421"/>
<use href="#mo" x="418" y="417"/>
<use href="#mo" x="418" y="426"/>
<use href="#mo" x="419" y="414"/>
<use href="#mo" x="419" y="428"/>
<use href="#mo" x="420" y="433"/>
<use href="#mo" x="421" y="428"/>
<use href="#mo" x="421" y="414"/>
<use href="#mo" x="422" y="428"/>
<use href="#mo" x="422" y="433"/>
<use href="#mo" x="423" y="423"/>
<use href="#mo" x="423" y="419"/>
<use href="#mo" x="424" y="414"/>
<use href="#mo" x="424" y="419"/>
<use href="#mo" x="425" y="432"/>
<use href="#mo" x="425" y="424"/>
<use href="#mo" x="426" y="424"/>
<use href="#mo" x="426" y="434"/>
<use href="#mo" x="427" y="425"/>
<use href="#mo" x="427" y="428"/>
<use href="#mo" x="428" y="419"/>
<use href="#mo" x="428" y="434"/>
<use href="#mo" x="429" y="420"/>
<use href="#mo" x="429" y="425"/>
<use href="#mo" x="430" y="416"/>
<use href="#mo" x="430" y="430"/>
<use href="#mo" x="431" y="425"/>
<use href="#mo" x="431" y="416"/>
<use href="#mo" x="432" y="426"/>
<use href="#mo" x="432" y="422"/>
<use href="#mo" x="433" y="426"/>
<use href="#mo" x="433" y="435"/>
<use href="#mo" x="434" y="417"/>
<use href="#mo" x="434" y="436"/>
<use href="#mo" x="435" y="418"/>
<use href="#mo" x="435" y="431"/>
<use href="#mo" x="436" y="423"/>
<use href="#mo" x="436" y="433"/>
<use href="#mo" x="437" y="427"/>
<use href="#mo" x="437" y="433"/>
<use href="#mo" x="438" y="424"/>
<use href="#mo" x="438" y="419"/>
<use href="#mo" x="439" y="428"/>
<use href="#mo" x="439" y="433"/>
<use href="#mo" x="440" y="424"/>
<use href="#mo" x="440" y="437"/>
<use href="#mo" x="441" y="430"/>
<use href="#mo" x="441" y="438"/>
<use href="#mo" x="442" y="429"/>
<use href="#mo" x="443" y="421"/>
<use href="#mo" x="443" y="425"/>
<use href="#mo" x="444" y="429"/>
<use href="#mo" x="444" y="420"/>
<use href="#mo" x="445" y="435"/>
<use href="#mo" x="445" y="439"/>
<use href="#mo" x="446" y="435"/>
<use href="#mo" x="446" y="431"/>
<use href="#mo" x="447" y="426"/>
<use href="#mo" x="447" y="441"/>
<use href="#mo" x="448" y="423"/>
<use href="#mo" x="448" y="432"/>
<use href="#mo" x="449" y="423"/>
<use href="#mo" x="449" y="428"/>
<use href="#mo" x="450" y="433"/>
<use href="#mo" x="450" y="424"/>
<use href="#mo" x="451" y="442"/>
<use href="#mo" x="451" y="433"/>
<use href="#mo" x="452" y="439"/>
<use href="#mo" x="452" y="434"/>
<use href="#mo" x="453" y="439"/>
<use href="#mo" x="453" y="430"/>
<use href="#mo" x="454" y="444"/>
<use href="#mo" x="454" y="440"/>
<use href="#mo" x="455" y="445"/>
<use href="#mo" x="455" y="426"/>
<use href="#mo" x="456" y="444"/>
<use href="#mo" x="456" y="436"/>
<use href="#mo" x="457" y="431"/>
<use href="#mo" x="457" y="436"/>
<use href="#mo" x="458" y="431"/>
<use href="#mo" x="458" y="436"/>
<use href="#mo" x="459" y="427"/>
<use href="#mo" x="459" y="441"/>
<use href="#mo" x="460" y="431"/>
<use href="#mo" x="460" y="428"/>
<use href="#mo" x="461" y="446"/>
<use href="#mo" x="461" y="442"/>
<use href="#mo" x="462" y="438"/>
<use href="#mo" x="462" y="442"/>
<use href="#mo" x="463" y="437"/>
<use href="#mo" x="463" y="447"/>
<use href="#mo" x="464" y="438"/>
<use href="#mo" x="464" y="429"/>
<use href="#mo" x="465" y="433"/>
<use href="#mo" x="465" y="446"/>
<use href="#mo" x="466" y="438"/>
<use href="#mo" x="466" y="433"/>
<use href="#mo" x="467" y="429"/>
<use href="#mo" x="467" y="439"/>
<use href="#mo" x="468" y="443"/>
<use href="#mo" x="468" y="439"/>
<use href="#mo" x="469" y="449"/>
<use href="#mo" x="469" y="430"/>
<use href="#mo" x="470" y="435"/>
<use href="#mo" x="470" y="444"/>
<use href="#mo" x="471" y="436"/>
<use href="#mo" x="471" y="431"/>
<use href="#mo" x="472" y="441"/>
<use href="#mo" x="472" y="438"/>
<use href="#mo" x="473" y="446"/>
<use href="#mo" x="473" y="442"/>
<use href="#mo" x="474" y="447"/>
<use href="#mo" x="474" y="442"/>
<use href="#mo" x="475" y="452"/>
<use href="#mo" x="475" y="435"/>
<use href="#mo" x="476" y="452"/>
<use href="#mo" x="476" y="440"/>
<use href="#mo" x="477" y="454"/>
<use href="#mo" x="477" y="449"/>
<use href="#mo" x="477" y="454"/>
<use href="#mo" x="478" y="446"/>
<use href="#mo" x="478" y="441"/>
<use href="#mo" x="479" y="438"/>
<use href="#mo" x="479" y="451"/>
<use href="#mo" x="480" y="438"/>
<use href="#mo" x="480" y="447"/>
<use href="#mo" x="481" y="447"/>
<use href="#mo" x="481" y="443"/>
<use href="#mo" x="482" y="456"/>
<use href="#mo" x="482" y="440"/>
<use href="#mo" x="483" y="453"/>
<use href="#mo" x="483" y="448"/>
<use href="#mo" x="484" y="439"/>
<use href="#mo" x="484" y="449"/>
<use href="#mo" x="485" y="458"/>
<use href="#mo" x="485" y="450"/>
<use href="#mo" x="486" y="454"/>
<use href="#mo" x="486" y="445"/>
<use href="#mo" x="486" y="451"/>
<use href="#mo" x="487" y="455"/>
<use href="#mo" x="487" y="460"/>
<use href="#mo" x="488" y="442"/>
<use href="#mo" x="488" y="456"/>
<use href="#mo" x="489" y="450"/>
<use href="#mo" x="489" y="459"/>
<use href="#mo" x="490" y="451"/>
<use href="#mo" x="490" y="447"/>
<use href="#mo" x="491" y="441"/>
<use href="#mo" x="491" y="447"/>
<use href="#mo" x="492" y="460"/>
<use href="#mo" x="492" y="448"/>
<use href="#mo" x="492" y="451"/>
<use href="#mo" x="493" y="448"/>
<use href="#mo" x="493" y="456"/>
<use href="#mo" x="494" y="443"/>
<use href="#mo" x="494" y="457"/>
<use href="#mo" x="495" y="444"/>
<use href="#mo" x="495" y="461"/>
<use href="#mo" x="496" y="452"/>
<use href="#mo" x="496" y="453"/>
<use href="#mo" x="497" y="444"/>
<use href="#mo" x="497" y="454"/>
<use href="#mo" x="497" y="464"/>
<use href="#mo" x="498" y="445"/>
<use href="#mo" x="498" y="465"/>
<use href="#mo" x="499" y="456"/>
<use href="#mo" x="499" y="451"/>
<use href="#mo" x="500" y="462"/>
<use href="#mo" x="500" y="451"/>
<use href="#mo" x="501" y="463"/>
<use href="#mo" x="501" y="457"/>
<use href="#mo" x="501" y="452"/>
<use href="#mo" x="502" y="463"/>
<use href="#mo" x="502" y="447"/>
<use href="#mo" x="503" y="463"/>
<use href="#mo" x="503" y="451"/>
<use href="#mo" x="504" y="458"/>
<use href="#mo" x="504" y="467"/>
<use href="#mo" x="505" y="457"/>
<use href="#mo" x="505" y="446"/>
<use href="#mo" x="506" y="468"/>
<use href="#mo" x="506" y="457"/>
<use href="#mo" x="506" y="451"/>
<use href="#mo" x="507" y="456"/>
<use href="#mo" x="507" y="466"/>
<use href="#mo" x="508" y="456"/>
<use href="#mo" x="508" y="460"/>
<use href="#mo" x="509" y="445"/>
<use href="#mo" x="509" y="466"/>
<use href="#mo" x="510" y="445"/>
<use href="#mo" x="510" y="449"/>
<use href="#mo" x="510" y="459"/>
<use href="#mo" x="511" y="455"/>
<use href="#mo" x="511" y="459"/>
<use href="#mo" x="512" y="465"/>
<use href="#mo" x="512" y="449"/>
<use href="#mo" x="513" y="458"/>
<use href="#mo" x="513" y="453"/>
<use href="#mo" x="514" y="463"/>
<use href="#mo" x="514" y="443"/>
<use href="#mo" x="515" y="452"/>
<use href="#mo" x="515" y="442"/>
<use href="#mo" x="515" y="448"/>
<use href="#mo" x="516" y="453"/>
<use href="#mo" x="516" y="458"/>
<use href="#mo" x="517" y="443"/>
<use href="#mo" x="517" y="448"/>
<use href="#mo" x="518" y="445"/>
<use href="#mo" x="518" y="454"/>
<use href="#mo" x="519" y="449"/>
<use href="#mo" x="519" y="454"/>
<use href="#mo" x="519" y="460"/>
<use href="#mo" x="520" y="465"/>
<use href="#mo" x="520" y="456"/>
<use href="#mo" x="521" y="465"/>
<use href="#mo" x="521" y="456"/>
<use href="#mo" x="522" y="465"/>
<use href="#mo" x="522" y="456"/>
<use href="#mo" x="523" y="452"/>
<use href="#mo" x="523" y="456"/>
<use href="#mo" x="524" y="461"/>
<use href="#mo" x="524" y="452"/>
<use href="#mo" x="524" y="466"/>
<use href="#mo" x="525" y="447"/>
<use href="#mo" x="525" y="462"/>
<use href="#mo" x="526" y="448"/>
<use href="#mo" x="526" y="463"/>
<use href="#mo" x="527" y="457"/>
<use href="#mo" x="527" y="468"/>
<use href="#mo" x="528" y="458"/>
<use href="#mo" x="528" y="463"/>
<use href="#mo" x="528" y="454"/>
<use href="#mo" x="529" y="468"/>
<use href="#mo" x="529" y="453"/>
<use href="#mo" x="530" y="459"/>
<use href="#mo" x="530" y="449"/>
<use href="#mo" x="531" y="449"/>
<use href="#mo" x="531" y="454"/>
<use href="#mo" x="531" y="468"/>
<use href="#mo" x="532" y="422"/>
<use href="#mo" x="533" y="413"/>
<use href="#mo" x="533" y="412"/>
<use href="#mo" x="533" y="412"/>
<use href="#mo" x="534" y="412"/>
<use href="#mo" x="534" y="411"/>
<use href="#mo" x="535" y="410"/>
<use href="#mo" x="535" y="410"/>
<use href="#mo" x="535" y="410"/>
<use href="#mo" x="536" y="409"/>
<use href="#mo" x="536" y="408"/>
<use href="#mo" x="536" y="409"/>
<use href="#mo" x="537" y="408"/>
<use href="#mo" x="537" y="408"/>
<use href="#mo" x="537" y="407"/>
<use href="#mo" x="538" y="407"/>
<use href="#mo" x="538" y="407"/>
<use href="#mo" x="538" y="406"/>
<use href="#mo" x="539" y="405"/>
<use href="#mo" x="539" y="406"/>
<use href="#mo" x="539" y="406"/>
<use href="#mo" x="540" y="405"/>
<use href="#mo" x="540" y="405"/>
<use href="#mo" x="540" y="404"/>
<use href="#mo" x="541" y="405"/>
<use href="#mo" x="541" y="404"/>
<use href="#mo" x="541" y="403"/>
<use href="#mo" x="542" y="403"/>
<use href="#mo" x="542" y="403"/>
<use href="#mo" x="543" y="403"/>
<use href="#mo" x="543" y="402"/>
<use href="#mo" x="543" y="402"/>
<use href="#mo" x="544" y="402"/>
<use href="#mo" x="544" y="401"/>
<use href="#mo" x="544" y="401"/>
<use href="#mo" x="545" y="402"/>
<use href="#mo" x="545" y="401"/>
<use href="#mo" x="545" y="401"/>
<use href="#mo" x="546" y="401"/>
<use href="#mo" x="546" y="401"/>
<use href="#mo" x="546" y="400"/>
<use href="#mo" x="547" y="400"/>
<use href="#mo" x="547" y="400"/>
<use href="#mo" x="547" y="400"/>
<use href="#mo" x="548" y="400"/>
<use href="#mo" x="548" y="400"/>
<use href="#mo" x="548" y="401"/>
<use href="#mo" x="549" y="401"/>
<use href="#mo" x="549" y="401"/>
<use href="#mo" x="549" y="401"/>
<use href="#mo" x="550" y="402"/>
<use href="#mo" x="550" y="401"/>
<use href="#mo" x="551" y="402"/>
<use href="#mo" x="551" y="401"/>
<use href="#mo" x="551" y="402"/>
<use href="#mo" x="552" y="402"/>
<use href="#mo" x="552" y="401"/>
<use href="#mo" x="552" y="402"/>
<use href="#mo" x="553" y="402"/>
<use href="#mo" x="553" y="402"/>
<use href="#mo" x="553" y="402"/>
<use href="#mo" x="554" y="402"/>
<use href="#mo" x="554" y="402"/>
<use href="#mo" x="554" y="402"/>
<use href="#mo" x="555" y="401"/>
<use href="#mo" x="555" y="402"/>
<use href="#mo" x="555" y="402"/>
<use href="#mo" x="556" y="401"/>
<use href="#mo" x="556" y="402"/>
<use href="#mo" x="556" y="401"/>
<use href="#mo" x="557" y="402"/>
<use href="#mo" x="557" y="402"/>
<use href="#mo" x="557" y="403"/>
<use href="#mo" x="558" y="403"/>
<use href="#mo" x="558" y="402"/>
<use href="#mo" x="559" y="403"/>
<use href="#mo" x="559" y="403"/>
<use href="#mo" x="559" y="403"/>
<use href="#mo" x="560" y="403"/>
<use href="#mo" x="560" y="403"/>
<use href="#mo" x="560" y="403"/>
<use href="#mo" x="561" y="403"/>
<use href="#mo" x="561" y="403"/>
<use href="#mo" x="561" y="381"/>
<use href="#mo" x="562" y="414"/>
<use href="#mo" x="563" y="439"/>
<use href="#mo" x="563" y="434"/>
<use href="#mo" x="564" y="443"/>
<use href="#mo" x="565" y="451"/>
<use href="#mo" x="565" y="458"/>
<use href="#mo" x="567" y="466"/>
<use href="#mo" x="567" y="472"/>
<use href="#mo" x="571" y="445"/>
<use href="#mo" x="572" y="453"/>
<use href="#mo" x="572" y="459"/>
<use href="#mo" x="574" y="472"/>
<use href="#mo" x="574" y="476"/>
<use href="#mo" x="575" y="466"/>
<use href="#mo" x="577" y="451"/>
<use href="#mo" x="577" y="458"/>
<use href="#mo" x="578" y="465"/>
<use href="#mo" x="580" y="483"/>
<use href="#mo" x="580" y="471"/>
<use href="#mo" x="580" y="479"/>
<use href="#mo" x="583" y="455"/>
<use href="#mo" x="583" y="458"/>
<use href="#mo" x="583" y="465"/>
<use href="#mo" x="585" y="475"/>
<use href="#mo" x="586" y="487"/>
<use href="#mo" x="586" y="482"/>
<use href="#mo" x="589" y="461"/>
<use href="#mo" x="589" y="467"/>
<use href="#mo" x="590" y="476"/>
<use href="#mo" x="592" y="490"/>
<use href="#mo" x="593" y="484"/>
<use href="#mo" x="594" y="474"/>
<use href="#mo" x="595" y="467"/>
</g>
<g shape-rendering="crispEdges"><rect x="122.5" y="748.5" width="211" height="50" fill="#fff" stroke="#000"/>
<line x1="132" y1="765.5" x2="162" y2="765.5" stroke="#000"/>
<line x1="132" y1="781.5" x2="162" y2="781.5" stroke="#000" stroke-dasharray="1 3"/></g>
<use href="#mf" x="143" y="761"/>
<use href="#mo" x="143" y="777"/>
<g opacity="0.999">
<text x="360.2" y="263" font-size="19.6" textLength="96.3" lengthAdjust="spacing" font-family="Liberation Sans, sans-serif" fill="#000">Heater Test</text>
<text x="369.9" y="725" font-size="16" textLength="76.8" lengthAdjust="spacing" font-family="Liberation Sans, sans-serif" fill="#000">Time (min)</text>
<text transform="translate(127,563) rotate(-90)" font-size="16" textLength="117.5" lengthAdjust="spacing" font-family="Liberation Sans, sans-serif" fill="#000">Temperature (C)</text>
<text x="664" y="362" textLength="35" lengthAdjust="spacing" font-size="13.8" font-family="Liberation Sans, sans-serif" fill="#000">Run 5</text>
<text x="156" y="340" font-size="13.33" text-anchor="end" font-family="Liberation Sans, sans-serif" fill="#000">24</text>
<text x="156" y="396" font-size="13.33" text-anchor="end" font-family="Liberation Sans, sans-serif" fill="#000">23</text>
<text x="156" y="452" font-size="13.33" text-anchor="end" font-family="Liberation Sans, sans-serif" fill="#000">22</text>
<text x="156" y="508" font-size="13.33" text-anchor="end" font-family="Liberation Sans, sans-serif" fill="#000">21</text>
<text x="156" y="564" font-size="13.33" text-anchor="end" font-family="Liberation Sans, sans-serif" fill="#000">20</text>
<text x="156" y="620" font-size="13.33" text-anchor="end" font-family="Liberation Sans, sans-serif" fill="#000">19</text>
<text x="156" y="676" font-size="13.33" text-anchor="end" font-family="Liberation Sans, sans-serif" fill="#000">18</text>
<text x="231" y="695" font-size="13.33" text-anchor="middle" font-family="Liberation Sans, sans-serif" fill="#000">0</text>
<text x="300" y="695" font-size="13.33" text-anchor="middle" font-family="Liberation Sans, sans-serif" fill="#000">200</text>
<text x="370" y="695" font-size="13.33" text-anchor="middle" font-family="Liberation Sans, sans-serif" fill="#000">400</text>
<text x="439" y="695" font-size="13.33" text-anchor="middle" font-family="Liberation Sans, sans-serif" fill="#000">600</text>
<text x="509" y="695" font-size="13.33" text-anchor="middle" font-family="Liberation Sans, sans-serif" fill="#000">800</text>
<text x="578" y="695" font-size="13.33" text-anchor="middle" font-family="Liberation Sans, sans-serif" fill="#000">1000</text>
<text x="648" y="695" font-size="13.33" text-anchor="middle" font-family="Liberation Sans, sans-serif" fill="#000">1200</text>
<text x="169.5" y="769" font-size="13.8" textLength="134.7" lengthAdjust="spacing" font-family="Liberation Sans, sans-serif" fill="#000">T (min) vs Water In (C)</text>
<text x="169.5" y="785" font-size="13.8" textLength="149.7" lengthAdjust="spacing" font-family="Liberation Sans, sans-serif" fill="#000">T (min) vs Water Mag (C)</text>
</g>
</svg>
</body></html>
